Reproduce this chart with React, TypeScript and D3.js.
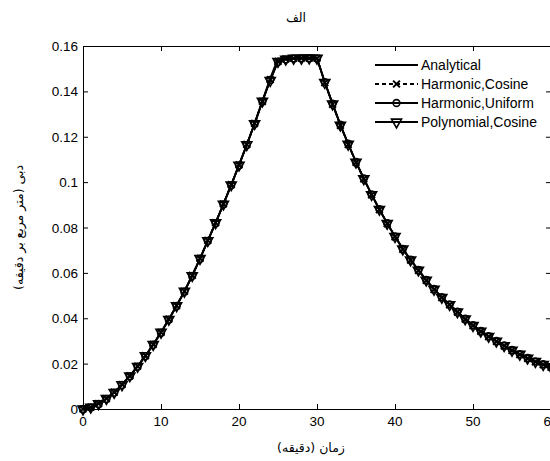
import React from 'react';
import * as d3 from 'd3';

// time in minutes, one sample per minute
const minutes = [
  0, 1, 2, 3, 4, 5, 6, 7, 8, 9, 10, 11, 12, 13, 14, 15, 16, 17, 18, 19, 20,
  21, 22, 23, 24, 25, 26, 27, 28, 29, 30, 31, 32, 33, 34, 35, 36, 37, 38, 39, 40,
  41, 42, 43, 44, 45, 46, 47, 48, 49, 50, 51, 52, 53, 54, 55, 56, 57, 58, 59, 60,
];

const analytical = [
  0, 0.0007, 0.0023, 0.0045, 0.0073, 0.0107, 0.0145, 0.0188, 0.0234, 0.0284, 0.0337,
  0.0395, 0.0455, 0.0518, 0.0588, 0.0663, 0.0742, 0.082, 0.0903, 0.0988, 0.1075,
  0.1165, 0.1258, 0.1358, 0.1458, 0.1545, 0.1545, 0.1545, 0.1545, 0.1545, 0.1545,
  0.144, 0.1345, 0.1252, 0.1168, 0.1088, 0.1015, 0.0945, 0.088, 0.0818, 0.076,
  0.0705, 0.0657, 0.0612, 0.0568, 0.0528, 0.0492, 0.046, 0.0428, 0.0397, 0.0368,
  0.0343, 0.032, 0.0299, 0.0279, 0.0259, 0.0241, 0.0224, 0.0209, 0.0196, 0.0185,
];

const harmonicCosine = [
  0, 0.0008, 0.0024, 0.0046, 0.0074, 0.0108, 0.0146, 0.0189, 0.0235, 0.0285, 0.0338,
  0.0396, 0.0456, 0.0519, 0.0589, 0.0664, 0.0743, 0.0821, 0.0904, 0.0989, 0.1076,
  0.1166, 0.1259, 0.1356, 0.1452, 0.1532, 0.1543, 0.1546, 0.1547, 0.1547, 0.1546,
  0.1438, 0.1343, 0.125, 0.1166, 0.1087, 0.1014, 0.0944, 0.0879, 0.0817, 0.0759,
  0.0704, 0.0656, 0.0611, 0.0567, 0.0527, 0.0491, 0.0459, 0.0427, 0.0396, 0.0367,
  0.0342, 0.0319, 0.0298, 0.0278, 0.0258, 0.024, 0.0223, 0.0208, 0.0195, 0.0184,
];

const harmonicUniform = [
  0, 0.0007, 0.0022, 0.0044, 0.0072, 0.0106, 0.0144, 0.0187, 0.0233, 0.0283, 0.0336,
  0.0394, 0.0454, 0.0517, 0.0587, 0.0662, 0.0741, 0.0819, 0.0902, 0.0987, 0.1074,
  0.1164, 0.1257, 0.1355, 0.145, 0.153, 0.1541, 0.1545, 0.1546, 0.1546, 0.1545,
  0.1441, 0.1346, 0.1253, 0.1169, 0.1089, 0.1016, 0.0946, 0.0881, 0.0819, 0.0761,
  0.0706, 0.0658, 0.0613, 0.0569, 0.0529, 0.0493, 0.0461, 0.0429, 0.0398, 0.0369,
  0.0344, 0.0321, 0.03, 0.028, 0.026, 0.0242, 0.0225, 0.021, 0.0197, 0.0186,
];

const polynomialCosine = [
  0, 0.0008, 0.0023, 0.0046, 0.0073, 0.0107, 0.0146, 0.0188, 0.0235, 0.0284, 0.0338,
  0.0395, 0.0455, 0.0519, 0.0588, 0.0663, 0.0742, 0.0821, 0.0903, 0.0988, 0.1075,
  0.1165, 0.1258, 0.1357, 0.1448, 0.1532, 0.1542, 0.1546, 0.1546, 0.1547, 0.1546,
  0.1439, 0.1344, 0.1251, 0.1167, 0.1088, 0.1015, 0.0945, 0.088, 0.0818, 0.076,
  0.0705, 0.0657, 0.0612, 0.0568, 0.0528, 0.0492, 0.046, 0.0428, 0.0397, 0.0368,
  0.0343, 0.032, 0.0299, 0.0279, 0.0259, 0.0241, 0.0224, 0.0209, 0.0196, 0.0185,
];

const xTicks = [0, 10, 20, 30, 40, 50, 60];
const yTicks = [0, 0.02, 0.04, 0.06, 0.08, 0.1, 0.12, 0.14, 0.16];

const legendLabels = ['Analytical', 'Harmonic,Cosine', 'Harmonic,Uniform', 'Polynomial,Cosine'];

const title = 'الف';
const xTitle = 'زمان (دقیقه)';
const yTitle = 'دبی (متر مربع بر دقیقه)';

const W = 550;
const H = 461;
const margin = { top: 46, right: -1, bottom: 52, left: 83 };
const latin = 'Arial, "Liberation Sans", Helvetica, sans-serif';
const persian = '"DejaVu Sans", sans-serif';

const symTimes = (d3 as any).symbolTimes || (d3 as any).symbolX || d3.symbolCross;

export default function App() {
  const x = d3.scaleLinear().domain([0, 60]).range([margin.left, W - margin.right]);
  const y = d3.scaleLinear().domain([0, 0.16]).range([H - margin.bottom, margin.top]);
  const [x0, x1] = x.range();
  const [y0, y1] = y.range();

  const line = d3
    .line<number>()
    .x((_, i) => x(minutes[i]))
    .y((d) => y(d));

  const tri = d3.symbol().type(d3.symbolTriangle).size(44)()!;
  const circ = d3.symbol().type(d3.symbolCircle).size(36)()!;
  const cross = d3.symbol().type(symTimes).size(32)()!;

  const series = [
    { values: analytical, dash: null, marker: null },
    { values: harmonicCosine, dash: '4,3', marker: cross },
    { values: harmonicUniform, dash: null, marker: circ },
    { values: polynomialCosine, dash: null, marker: tri },
  ];

  const markerPath = (m: string | null, cx: number, cy: number, key: string | number) => {
    if (!m) return null;
    const rot = m === tri ? ' rotate(180)' : '';
    return (
      <path
        key={key}
        d={m}
        transform={`translate(${cx},${cy})${rot}`}
        fill="none"
        stroke="#000"
        strokeWidth={m === cross ? 2 : 1.6}
      />
    );
  };

  const legX = 375;
  const legY = 65;
  const legStep = 19;

  return (
    <div style={{ position: 'absolute', left: 0, top: 0 }}>
      <svg width={W} height={H} style={{ display: 'block', background: '#fff' }}>
        <rect width={W} height={H} fill="#fff" />

        {/* series */}
        {series.map((s, si) => (
          <g key={si}>
            <path
              d={line(s.values)!}
              fill="none"
              stroke="#000"
              strokeWidth={1.8}
              strokeDasharray={s.dash ?? undefined}
            />
            {s.marker &&
              s.values.map((v, i) => markerPath(s.marker, x(minutes[i]), y(v), i))}
          </g>
        ))}

        {/* frame */}
        <rect
          x={x0 + 0.5}
          y={y1 + 0.5}
          width={x1 - x0}
          height={y0 - y1}
          fill="none"
          stroke="#000"
          strokeWidth={1}
        />

        {/* x ticks */}
        {xTicks.map((t) => (
          <g key={t}>
            <line x1={x(t) + 0.5} x2={x(t) + 0.5} y1={y0} y2={y0 - 5} stroke="#000" />
            <line x1={x(t) + 0.5} x2={x(t) + 0.5} y1={y1} y2={y1 + 5} stroke="#000" />
            <text
              x={x(t)}
              y={y0 + 17}
              textAnchor="middle"
              fontFamily={latin}
              fontSize={13.5}
              fill="#000"
            >
              {t}
            </text>
          </g>
        ))}

        {/* y ticks */}
        {yTicks.map((t) => (
          <g key={t}>
            <line x1={x0} x2={x0 + 5} y1={y(t) + 0.5} y2={y(t) + 0.5} stroke="#000" />
            <line x1={x1} x2={x1 - 5} y1={y(t) + 0.5} y2={y(t) + 0.5} stroke="#000" />
            <text
              x={x0 - 5}
              y={y(t) + 5}
              textAnchor="end"
              fontFamily={latin}
              fontSize={13.5}
              fill="#000"
            >
              {t}
            </text>
          </g>
        ))}

        {/* legend */}
        {legendLabels.map((label, i) => {
          const s = series[i];
          const ly = legY + i * legStep;
          return (
            <g key={label}>
              <line
                x1={legX}
                x2={legX + 43}
                y1={ly}
                y2={ly}
                stroke="#000"
                strokeWidth={1.8}
                strokeDasharray={s.dash ?? undefined}
              />
              {markerPath(s.marker, legX + 21.5, ly, 'm')}
              <text
                x={legX + 46}
                y={ly + 5}
                fontFamily={latin}
                fontSize={14}
                fill="#000"
              >
                {label}
              </text>
            </g>
          );
        })}

        {/* titles */}
        <text x={296} y={22} textAnchor="middle" fontFamily={persian} fontSize={12.5} fill="#000">
          {title}
        </text>
        <text x={311} y={452} textAnchor="middle" fontFamily={persian} fontSize={12.5} fill="#000">
          {xTitle}
        </text>
        <text
          transform={`translate(23,${(y0 + y1) / 2}) rotate(-90)`}
          textAnchor="middle"
          fontFamily={persian}
          fontSize={12.5}
          fill="#000"
        >
          {yTitle}
        </text>
      </svg>
    </div>
  );
}
